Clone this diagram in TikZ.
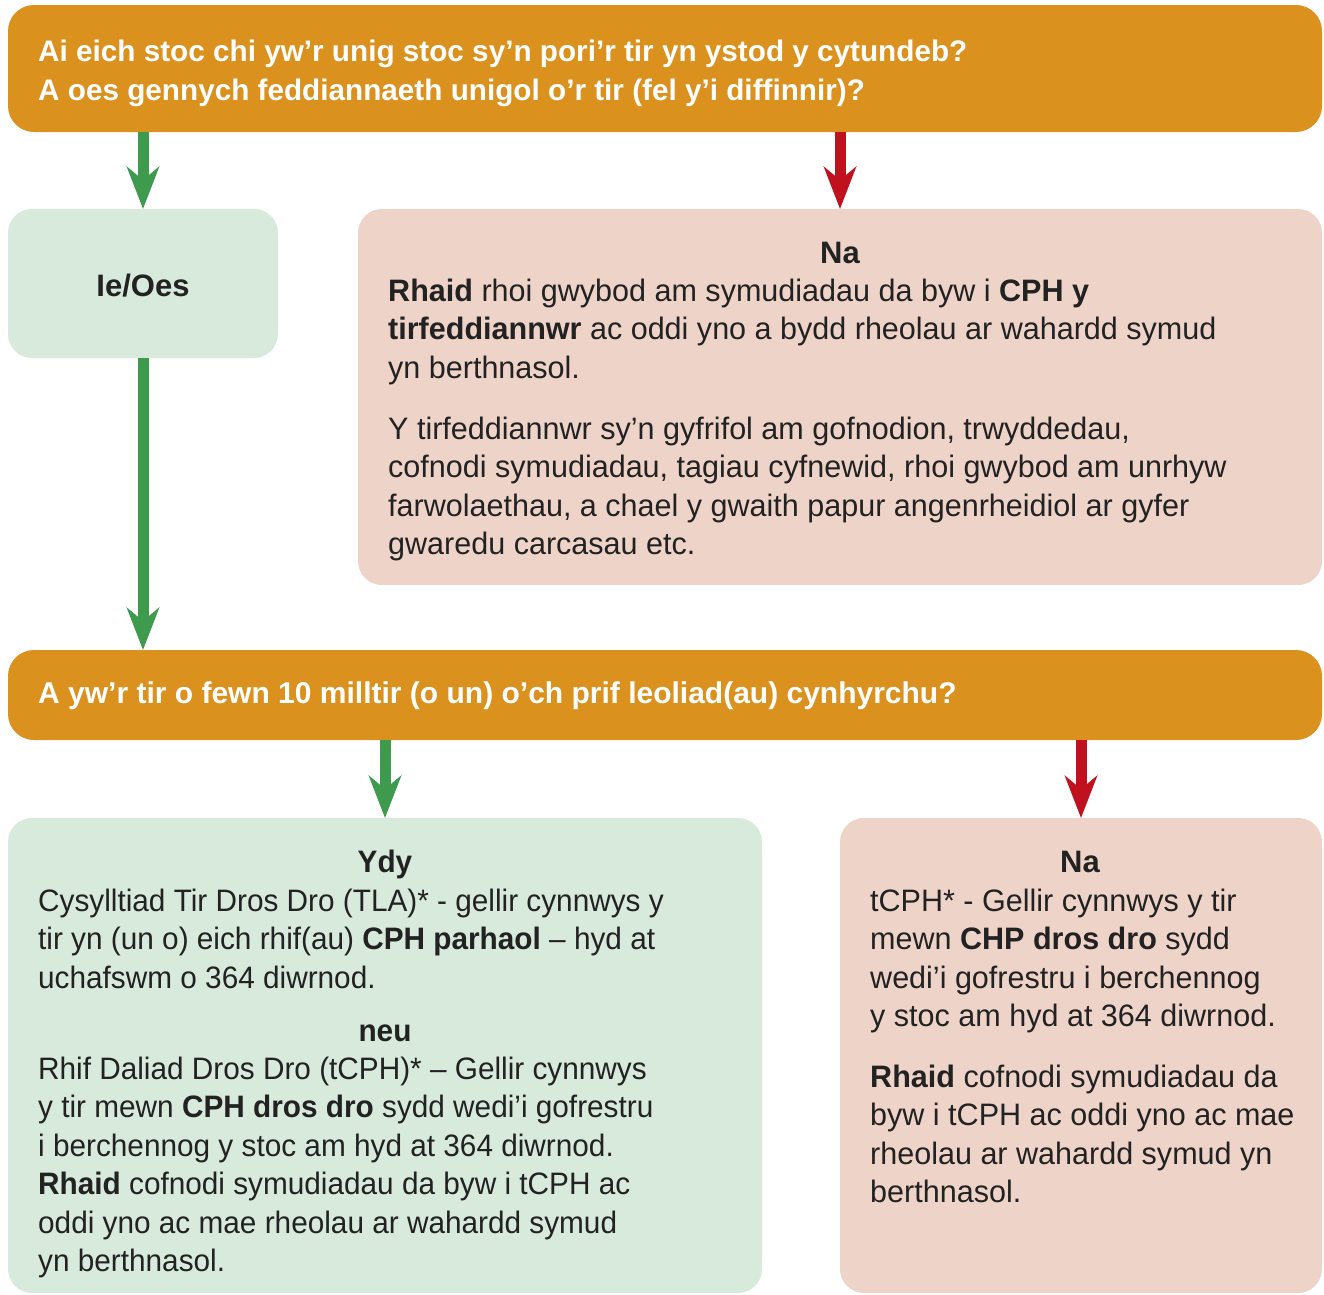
\documentclass[tikz,border=0pt]{standalone}
\usepackage{fontspec}
\setmainfont{Liberation Sans}
\newfontfamily\condfont[FakeStretch=0.96]{Liberation Sans}
\newfontfamily\bodyfont[FakeStretch=0.985]{Liberation Sans}
\usetikzlibrary{arrows.meta}
\definecolor{orangeq}{HTML}{DB911D}
\definecolor{greenarr}{HTML}{3E9A4C}
\definecolor{redarr}{HTML}{C0111F}
\definecolor{greenbox}{HTML}{D8EADC}
\definecolor{pinkbox}{HTML}{EED3C8}
\definecolor{textc}{HTML}{222222}
\begin{document}
\begin{tikzpicture}[x=1pt,y=-1pt,
  qbox/.style={fill=orangeq, rounded corners=26pt, inner sep=0pt, outer sep=0pt},
  gbox/.style={fill=greenbox, rounded corners=24pt, inner sep=0pt, outer sep=0pt},
  pbox/.style={fill=pinkbox, rounded corners=24pt, inner sep=0pt, outer sep=0pt},
  qtext/.style={anchor=north west, inner sep=0pt, align=left, text=white, font=\fontsize{29.7}{39}\selectfont\bfseries},
  btext/.style={anchor=north west, inner sep=0pt, align=left, text=textc, font=\bodyfont\fontsize{31}{38.5}\selectfont},
  ctext/.style={anchor=north west, inner sep=0pt, align=left, text=textc, font=\condfont\fontsize{31}{38.5}\selectfont},
  head/.style={anchor=base, inner sep=0pt, text=textc, font=\fontsize{31}{38.5}\selectfont\bfseries},
  garrow/.style={draw=greenarr, line width=11pt, -{Stealth[length=42pt, width=32pt, inset=13pt]}},
  rarrow/.style={draw=redarr, line width=11pt, -{Stealth[length=42pt, width=32pt, inset=13pt]}}
]
\useasboundingbox (0,0) rectangle (1324,1294);
\fill[white] (0,0) rectangle (1324,1294);

% boxes
\node[qbox, minimum width=1314pt, minimum height=127pt] (q1) at (665,68.5) {};
\node[gbox, minimum width=270pt, minimum height=149pt] (ie) at (143,283.5) {};
\node[pbox, minimum width=964pt, minimum height=376pt] (na1) at (840,397) {};
\node[qbox, minimum width=1314pt, minimum height=90pt] (q2) at (665,695) {};
\node[gbox, minimum width=754pt, minimum height=475pt] (ydy) at (385,1055.5) {};
\node[pbox, minimum width=482pt, minimum height=475pt] (na2) at (1081,1055.5) {};

% arrows
\draw[garrow] (q1.south -| ie.north) -- (ie.north);
\draw[rarrow] (q1.south -| na1.north) -- (na1.north);
\draw[garrow] (ie.south) -- (q2.north -| ie.south);
\draw[garrow] (q2.south -| ydy.north) -- (ydy.north);
\draw[rarrow] (q2.south -| na2.north) -- (na2.north);

% texts
\node[qtext] (q1t) at (38,33.7) {\strut Ai eich stoc chi yw’r unig stoc sy’n pori’r tir yn ystod y cytundeb?\\A oes gennych feddiannaeth unigol o’r tir (fel y’i diffinnir)?};
\node[head] (iet) at (143,296) {Ie/Oes};

\node[head] (na1h) at (840,263) {Na};
\node[btext] (na1p1) at (388,274) {\strut\textbf{Rhaid} rhoi gwybod am symudiadau da byw i \textbf{CPH y}\\\textbf{tirfeddiannwr} ac oddi yno a bydd rheolau ar wahardd symud\\yn berthnasol.};
\node[btext] (na1p2) at (388,412) {\strut Y tirfeddiannwr sy’n gyfrifol am gofnodion, trwyddedau,\\cofnodi symudiadau, tagiau cyfnewid, rhoi gwybod am unrhyw\\farwolaethau, a chael y gwaith papur angenrheidiol ar gyfer\\gwaredu carcasau etc.};

\node[qtext, anchor=base west, font=\fontsize{30}{39}\selectfont\bfseries] (q2t) at (38,703) {A yw’r tir o fewn 10 milltir (o un) o’ch prif leoliad(au) cynhyrchu?};

\node[head, font=\condfont\fontsize{31}{38.5}\selectfont\bfseries] (ydyh) at (385,872) {Ydy};
\node[ctext] (ydyp1) at (38,884) {\strut Cysylltiad Tir Dros Dro (TLA)* - gellir cynnwys y\\tir yn (un o) eich rhif(au) \textbf{CPH parhaol} – hyd at\\uchafswm o 364 diwrnod.};
\node[head, font=\condfont\fontsize{31}{38.5}\selectfont\bfseries] (neuh) at (385,1041) {neu};
\node[ctext] (ydyp2) at (38,1052) {\strut Rhif Daliad Dros Dro (tCPH)* – Gellir cynnwys\\y tir mewn \textbf{CPH dros dro} sydd wedi’i gofrestru\\i berchennog y stoc am hyd at 364 diwrnod.\\\textbf{Rhaid} cofnodi symudiadau da byw i tCPH ac\\oddi yno ac mae rheolau ar wahardd symud\\yn berthnasol.};

\node[head] (na2h) at (1080,872) {Na};
\node[btext] (na2p1) at (870,884) {\strut tCPH* - Gellir cynnwys y tir\\mewn \textbf{CHP dros dro} sydd\\wedi’i gofrestru i berchennog\\y stoc am hyd at 364 diwrnod.};
\node[btext] (na2p2) at (870,1060) {\strut\textbf{Rhaid} cofnodi symudiadau da\\byw i tCPH ac oddi yno ac mae\\rheolau ar wahardd symud yn\\berthnasol.};
\end{tikzpicture}
\end{document}
